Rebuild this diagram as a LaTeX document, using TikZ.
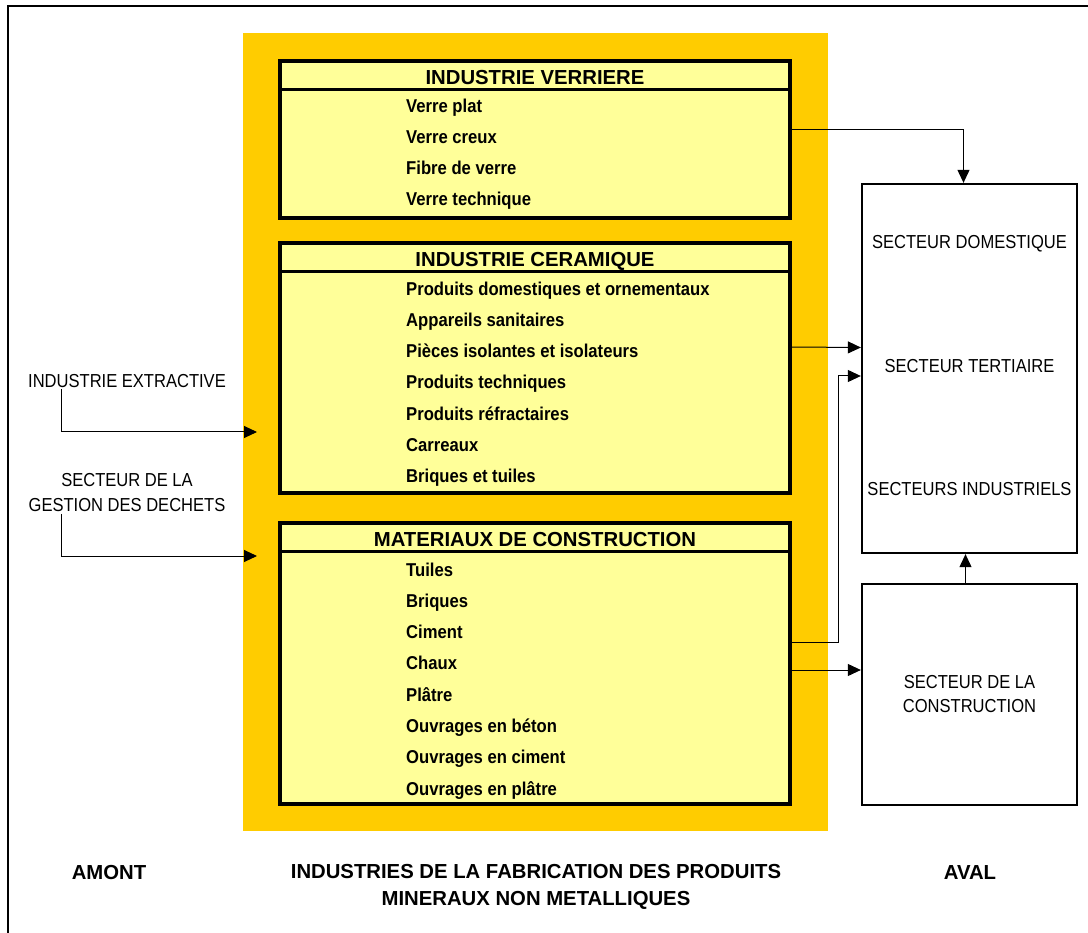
\documentclass[tikz,border=0pt]{standalone}
\usepackage{fontspec}
\setmainfont{Liberation Sans}
\newfontfamily\etroit[FakeStretch=0.88]{Liberation Sans}
\newfontfamily\etroitgras[FakeStretch=0.895]{Liberation Sans}
\usepackage{tikz}
\usetikzlibrary{arrows.meta,positioning}
\definecolor{fondjaune}{HTML}{FFCC00}
\definecolor{jaunepale}{HTML}{FFFF99}

\begin{document}
\begin{tikzpicture}[
      x=1pt, y=-1pt,
      >={Triangle[length=13pt,width=12pt]},
      bloc/.style={draw, line width=3.5pt, fill=jaunepale, minimum width=510pt, inner sep=0pt},
      titre/.style={minimum width=510pt, minimum height=30pt, inner sep=0pt,
                    text height=21pt, text depth=0pt,
                    font=\bfseries\fontsize{20.3}{24}\selectfont},
      liste/.style={anchor=north west, inner sep=0pt, align=left,
                    font=\etroitgras\bfseries\fontsize{18.6}{31.3}\selectfont},
      secteur/.style={draw, line width=2.3pt, minimum width=215pt, inner sep=0pt, align=center,
                      font=\etroit\fontsize{18.8}{24}\selectfont},
      lbl/.style={inner sep=0pt, align=center, font=\etroit\fontsize{18.8}{25}\selectfont},
      pied/.style={inner sep=0pt, align=center, font=\bfseries\fontsize{20.3}{27}\selectfont},
      link/.style={->, line width=1pt},
      sep/.style={line width=3.5pt},
    ]
    \useasboundingbox (0,0) rectangle (1088,933);
    \draw[line width=2pt] (8,933) |- (1088,6);

    % fond jaune
    \node[fill=fondjaune, minimum width=585pt, minimum height=798pt, inner sep=0pt] (fond) at (535.5,432) {};

    % industrie verriere
    \node[bloc, minimum height=157pt] (verre) at (535,139.5) {};
    \node[titre, anchor=north] (verrehd) at (verre.north) {INDUSTRIE VERRIERE};
    \draw[sep] (verrehd.south west) -- (verrehd.south east);
    \node[liste] (verreitems) at (406,98.4) {Verre plat\\Verre creux\\Fibre de verre\\Verre technique};

    % industrie ceramique
    \node[bloc, minimum height=250pt] (cera) at (535,368) {};
    \node[titre, anchor=north] (cerahd) at (cera.north) {INDUSTRIE CERAMIQUE};
    \draw[sep] (cerahd.south west) -- (cerahd.south east);
    \node[liste] (ceraitems) at (406,281.4) {Produits domestiques et ornementaux\\Appareils sanitaires\\
      Pièces isolantes et isolateurs\\Produits techniques\\Produits réfractaires\\Carreaux\\Briques et tuiles};

    % materiaux de construction
    \node[bloc, minimum height=281pt] (mat) at (535,663.5) {};
    \node[titre, anchor=north] (mathd) at (mat.north) {MATERIAUX DE CONSTRUCTION};
    \draw[sep] (mathd.south west) -- (mathd.south east);
    \node[liste] (matitems) at (406,562.4) {Tuiles\\Briques\\Ciment\\Chaux\\Plâtre\\Ouvrages en béton\\
      Ouvrages en ciment\\Ouvrages en plâtre};

    % aval
    \node[secteur, minimum height=369pt] (secteurs) at (969.5,368.5) {};
    \node[lbl] (domest) at ([yshift=125pt]secteurs.center) {SECTEUR DOMESTIQUE};
    \node[lbl] (tert) at ([yshift=2pt]secteurs.center) {SECTEUR TERTIAIRE};
    \node[lbl] (indus) at ([yshift=-121pt]secteurs.center) {SECTEURS INDUSTRIELS};
    \node[secteur, minimum height=221pt] (constr) at (969.5,694.5) {SECTEUR DE LA\\CONSTRUCTION};

    % amont
    \node[lbl] (extract) at (127,381) {INDUSTRIE EXTRACTIVE};
    \node[lbl] (dechets) at (127,492.5) {SECTEUR DE LA\\GESTION DES DECHETS};
    \coordinate (entree1) at (257,432);
    \coordinate (entree2) at (257,556);

    % pied
    \node[pied] (amont) at (109,873) {AMONT};
    \node[pied] (centre) at (536,886.5) {INDUSTRIES DE LA FABRICATION DES PRODUITS\\MINERAUX NON METALLIQUES};
    \node[pied] (aval) at (970,873) {AVAL};

    \draw[link] ([xshift=-66pt,yshift=-1pt]extract.south) |- (entree1);
    \draw[link] ([xshift=-66pt,yshift=-2pt]dechets.south) |- (entree2);
    \draw[link] ([yshift=10pt]verre.east) -| ([xshift=-6pt]secteurs.north);
    \draw[link] ([yshift=21pt]cera.east) -- ([yshift=21pt]secteurs.west);
    \draw[link] ([yshift=21.5pt]mat.east) -- ++(47,0) |- ([yshift=-7.5pt]secteurs.west);
    \draw[link] ([yshift=-6.5pt]mat.east) -- ([yshift=-6.5pt]mat.east -| constr.west);
    \draw[link] ([xshift=-4pt]constr.north) -- ([xshift=-4pt]secteurs.south);
  \end{tikzpicture}
\end{document}
